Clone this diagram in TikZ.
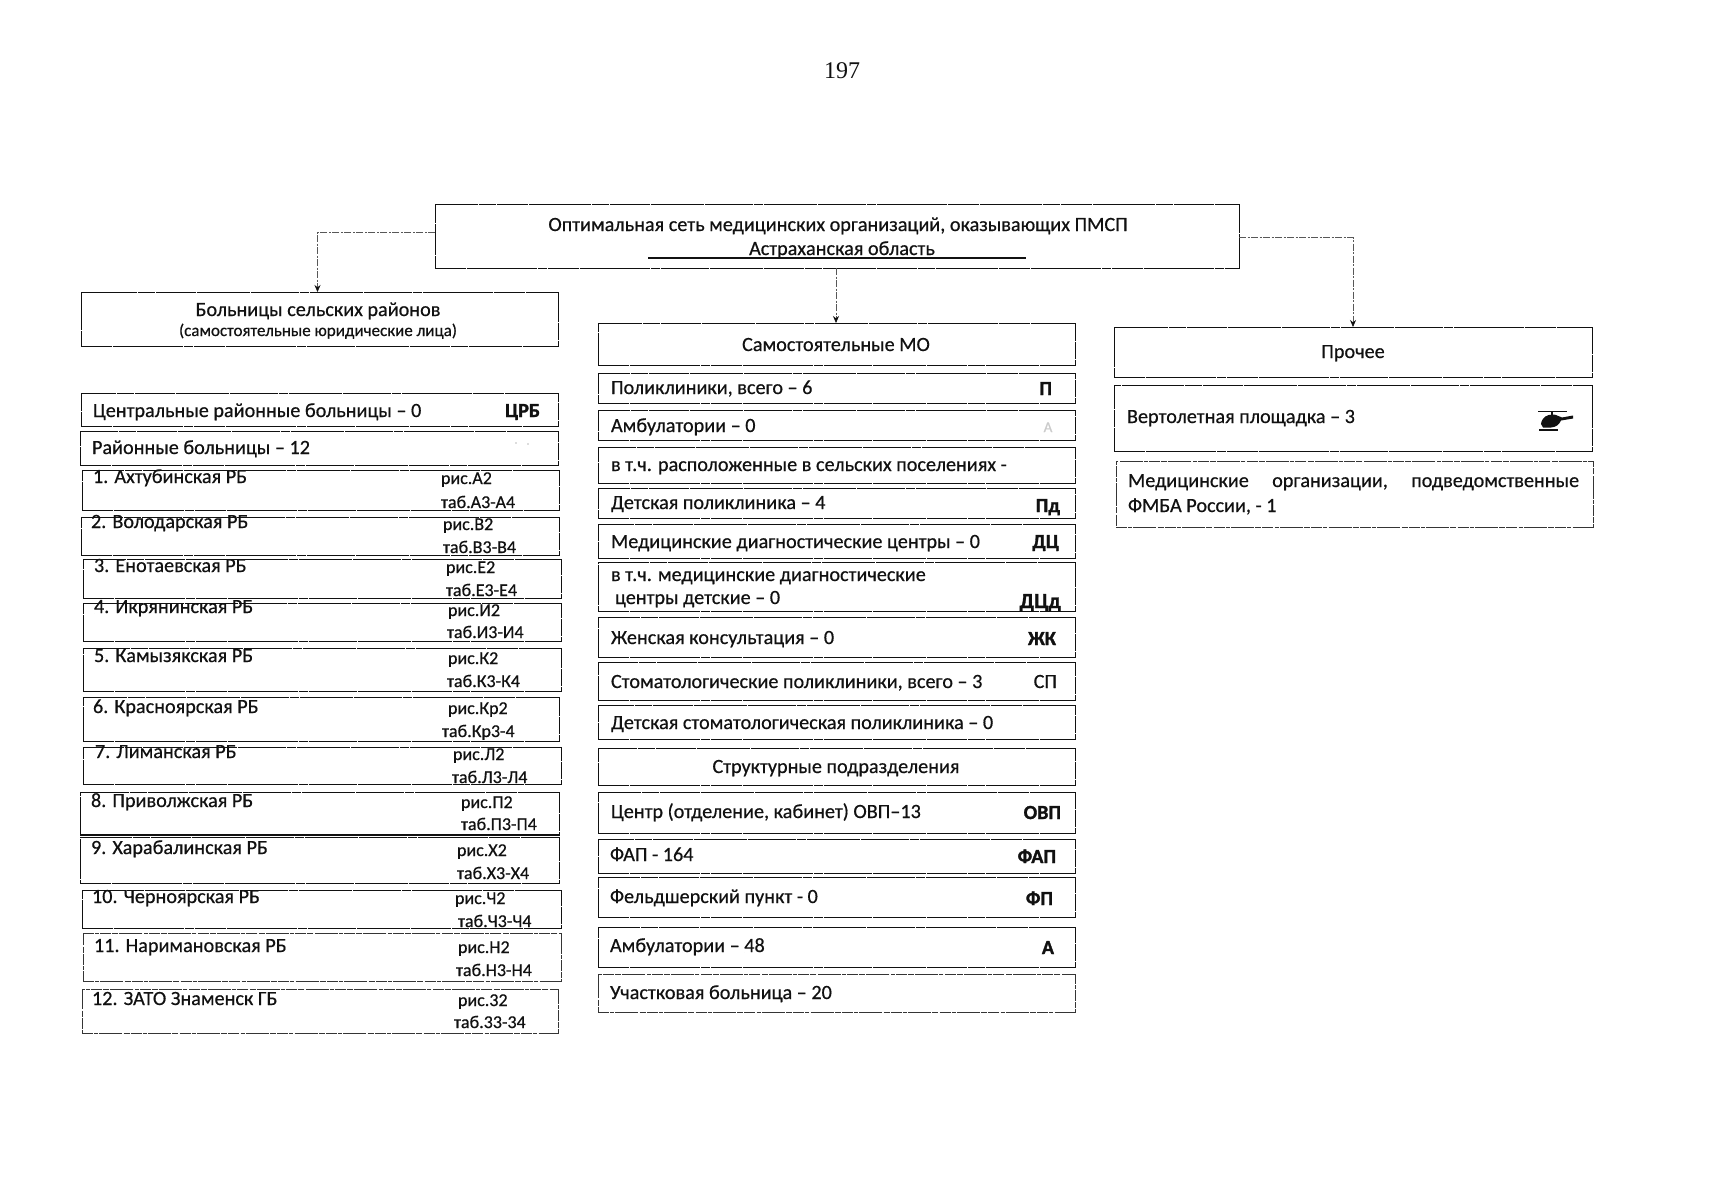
\documentclass[tikz,border=0pt]{standalone}
\usepackage{fontspec}
\setmainfont{Carlito}[UprightFeatures={FakeBold=0.5},BoldFeatures={FakeBold=1.4}]
\newfontfamily\pagefont{Liberation Serif}[FakeStretch=1]
\usetikzlibrary{arrows.meta}
\definecolor{ink}{HTML}{111111}
\newcounter{tn}
\tikzset{
  mbox/.style={draw=ink,line width=0.95pt,dash pattern=on 31pt off 0.7pt on 17pt off 0.7pt on 53pt off 0.7pt on 9pt off 0.7pt,inner sep=0pt,outer sep=0pt},
  fbox/.style={draw=ink!85,line width=0.85pt,dash pattern=on 11pt off 1.2pt on 4pt off 1.2pt on 23pt off 1.2pt on 6pt off 1.2pt,inner sep=0pt,outer sep=0pt},
  lbl/.style={inner sep=0pt,outer sep=0pt,text=ink,font=\fontsize{20.2}{23}\selectfont},
  sml/.style={inner sep=0pt,outer sep=0pt,text=ink,font=\fontsize{18}{20}\selectfont},
  hsm/.style={inner sep=0pt,outer sep=0pt,text=ink,font=\fontsize{17}{20}\selectfont},
  tag/.style={inner sep=0pt,outer sep=0pt,text=ink,font=\fontsize{20}{23}\selectfont\bfseries},
  link/.style={draw=ink!70,line width=0.7pt,dash pattern=on 7pt off 1.5pt on 2pt off 1.5pt,-{Stealth[length=7pt,width=6pt,color=ink]}}
}
\newcommand\bx[6][mbox]{%
  \pgfmathsetmacro\bw{#5-#3}\pgfmathsetmacro\bh{#6-#4}%
  \pgfmathsetmacro\bcx{(#3+#5)/2}\pgfmathsetmacro\bcy{(#4+#6)/2}%
  \node[#1,minimum width=\bw pt,minimum height=\bh pt] (#2) at (\bcx,\bcy) {};}
\newcommand\tl[4][lbl]{\stepcounter{tn}\node[#1,anchor=base west] (t\arabic{tn}) at (#2,#3) {#4};}
\newcommand\tc[4][lbl]{\stepcounter{tn}\node[#1,anchor=base] (t\arabic{tn}) at (#2,#3) {#4};}
\newcommand\tr[4][tag]{\stepcounter{tn}\node[#1,anchor=base east] (t\arabic{tn}) at (#2,#3) {#4};}
\begin{document}
\begin{tikzpicture}[x=1pt,y=-1pt]
\useasboundingbox (0,0) rectangle (1719,1200);
\fill[white] (0,0) rectangle (1719,1200);
% page number
\stepcounter{tn}\node[inner sep=0pt,text=ink,anchor=base,font=\pagefont\fontsize{24}{26}\selectfont] (pageno) at (842,78) {197};
% top
\bx{top}{435}{204}{1239}{268}
\tc{838}{231}{Оптимальная сеть медицинских организаций, оказывающих ПМСП}
\tc{842}{255}{Астраханская область}
\coordinate (ula) at (648,258); \coordinate (ulb) at (1026,258);
\draw[ink,line width=1.2pt] (ula) -- (ulb);
% column heads
\bx{hosp}{81}{292}{558}{346}
\tc{318}{316}{Больницы сельских районов}
\tc[hsm]{318}{336}{(самостоятельные юридические лица)}
\bx{mo}{598}{323}{1075}{365}
\tc{836}{351}{Самостоятельные МО}
\bx{other}{1114}{327}{1592}{377}
\tc{1353}{358}{Прочее}
% connectors
\draw[link] ([yshift=3.5pt]top.west) -| ([xshift=-2pt]hosp.north);
\draw[link] ([xshift=-1pt]top.south) -- ([xshift=-0.5pt]mo.north);
\draw[link] ([yshift=-1.5pt]top.east) -| (other.north);
% left column
\bx{crb}{81}{393}{558}{426}
\tl{93}{417}{Центральные районные больницы – 0}\tr{540}{417}{ЦРБ}
\bx{rb}{80}{431}{558}{465}
\tl{92}{454}{Районные больницы – 12}
\coordinate (spa) at (516,443); \coordinate (spb) at (528,444);
\fill[ink!60] (spa) circle (0.7pt) (spb) circle (0.7pt);
\bx{l1}{82}{470}{559}{510}
\tl{93}{483}{1. Ахтубинская РБ}\tl[sml]{441}{484}{рис.А2}\tl[sml]{441}{508}{таб.А3-А4}
\bx{l2}{81}{517}{559}{555}
\tl{91}{528}{2. Володарская РБ}\tl[sml]{443}{530}{рис.В2}\tl[sml]{443}{553}{таб.В3-В4}
\bx{l3}{83}{559}{561}{598}
\tl{94}{572}{3. Енотаевская РБ}\tl[sml]{446}{573}{рис.Е2}\tl[sml]{446}{596}{таб.Е3-Е4}
\bx{l4}{83}{603}{561}{641}
\tl{94}{613}{4. Икрянинская РБ}\tl[sml]{448}{616}{рис.И2}\tl[sml]{447}{638}{таб.И3-И4}
\bx{l5}{83}{648}{561}{691}
\tl{94}{662}{5. Камызякская РБ}\tl[sml]{448}{664}{рис.К2}\tl[sml]{447}{687}{таб.К3-К4}
\bx{l6}{83}{697}{559}{741}
\tl{93}{713}{6. Красноярская РБ}\tl[sml]{448}{714}{рис.Кр2}\tl[sml]{442}{737}{таб.Кр3-4}
\bx{l7}{83}{747}{561}{784}
\tl{95}{758}{7. Лиманская РБ}\tl[sml]{453}{760}{рис.Л2}\tl[sml]{452}{783}{таб.Л3-Л4}
\bx{l8}{80}{792}{559}{835}
\tl{91}{807}{8. Приволжская РБ}\tl[sml]{461}{808}{рис.П2}\tl[sml]{461}{830}{таб.П3-П4}
\bx{l9}{80}{837}{559}{883}
\draw[ink,line width=2.2pt] (l8.south west) -- (l8.south east);
\tl{91}{854}{9. Харабалинская РБ}\tl[sml]{457}{856}{рис.Х2}\tl[sml]{457}{879}{таб.Х3-Х4}
\bx{l10}{82}{890}{561}{928}
\tl{92}{903}{10. Черноярская РБ}\tl[sml]{455}{904}{рис.Ч2}\tl[sml]{458}{927}{таб.Ч3-Ч4}
\bx[fbox]{l11}{83}{933}{561}{981}
\tl{94}{952}{11. Наримановская РБ}\tl[sml]{458}{953}{рис.Н2}\tl[sml]{456}{976}{таб.Н3-Н4}
\bx[fbox]{l12}{82}{989}{558}{1033}
\tl{92}{1005}{12. ЗАТО Знаменск ГБ}\tl[sml]{458}{1006}{рис.32}\tl[sml]{454}{1028}{таб.33-34}
% middle column
\bx{m1}{598}{373}{1075}{403}
\tl{611}{394}{Поликлиники, всего – 6}\tr{1052}{395}{П}
\bx{m2}{598}{410}{1075}{440}
\tl{611}{432}{Амбулатории – 0}
\stepcounter{tn}\node[inner sep=0pt,anchor=base,text=ink!22,font=\fontsize{15}{17}\selectfont] (fainta) at (1048,432) {А};
\bx{m3}{598}{447}{1075}{483}
\tl{611}{471}{в т.ч. расположенные в сельских поселениях -}
\bx{m4}{598}{488}{1075}{518}
\tl{611}{509}{Детская поликлиника – 4}\tr{1060}{512}{Пд}
\bx{m5}{598}{524}{1075}{558}
\tl{611}{548}{Медицинские диагностические центры – 0}\tr{1059}{548}{ДЦ}
\bx{m6}{598}{562}{1075}{611}
\tl{611}{581}{в т.ч. медицинские диагностические}
\tl{615}{604}{центры детские – 0}
\stepcounter{tn}\node[inner sep=0pt,anchor=base east,text=ink,font=\fontsize{21.5}{23}\selectfont\bfseries] (dcd) at (1061,608) {ДЦд};
\bx{m7}{598}{617}{1075}{657}
\tl{611}{644}{Женская консультация – 0}\tr{1056}{645}{ЖК}
\bx{m8}{598}{662}{1075}{700}
\tl{611}{688}{Стоматологические поликлиники, всего – 3}\tr[lbl]{1057}{688}{СП}
\bx{m9}{598}{705}{1075}{739}
\tl{611}{729}{Детская стоматологическая поликлиника – 0}
\bx{m10}{598}{748}{1075}{785}
\tc{836}{773}{Структурные подразделения}
\bx{m11}{598}{792}{1075}{833}
\tl{611}{818}{Центр (отделение, кабинет) ОВП–13}\tr{1061}{819}{ОВП}
\bx{m12}{598}{839}{1075}{873}
\tl{610}{861}{ФАП - 164}\tr{1056}{863}{ФАП}
\bx{m13}{598}{877}{1075}{917}
\tl{610}{903}{Фельдшерский пункт - 0}\tr{1053}{905}{ФП}
\bx{m14}{598}{927}{1075}{967}
\tl{610}{952}{Амбулатории – 48}\tr{1054}{954}{А}
\bx[fbox]{m15}{598}{974}{1075}{1012}
\tl{610}{999}{Участковая больница – 20}
% right column
\bx{r1}{1114}{385}{1592}{451}
\tl{1127}{423}{Вертолетная площадка – 3}
\fill[ink] (1538,410.5) rectangle (1567,411.8);
\fill[ink] (1551,411) rectangle (1553,415);
\fill[ink] (1541,424) .. controls (1542,417) and (1547,414.5) .. (1553,414.5) .. controls (1557,414.5) and (1559,417) .. (1562,417.5) -- (1573,415.5) -- (1573,418.5) -- (1561,420.5) .. controls (1559,425) and (1556,427) .. (1551,427.5) -- (1543,427.5) -- cycle;
\fill[ink] (1539,428.5) rectangle (1558,430.5);
\bx[fbox]{r2}{1116}{461}{1593}{527}
\stepcounter{tn}\node[lbl,anchor=base west] (r2a) at (1128,487) {\hbox to 451pt{Медицинские\hfill организации,\hfill подведомственные}};
\tl{1128}{512}{ФМБА России, - 1}
\end{tikzpicture}
\end{document}
